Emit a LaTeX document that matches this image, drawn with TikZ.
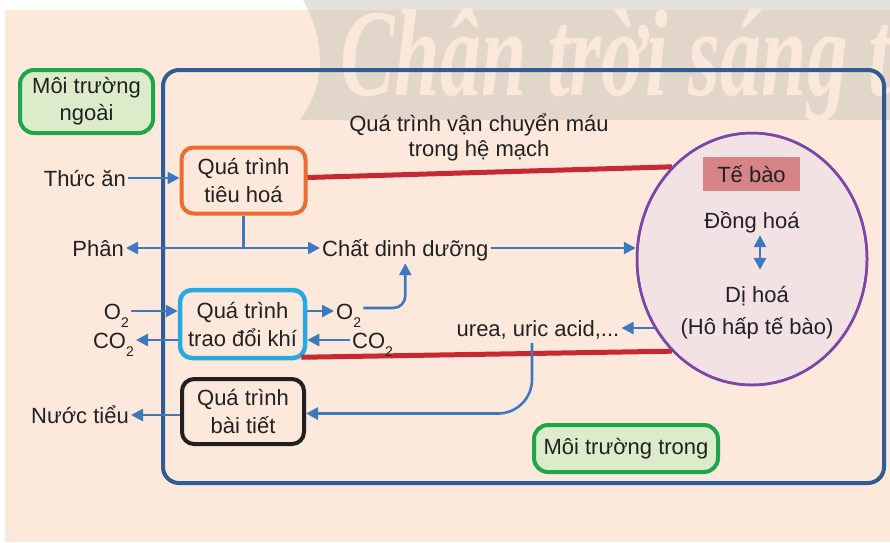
\documentclass[tikz,border=0pt]{standalone}
\usepackage{fontspec}
\setmainfont{Liberation Sans}
\newfontfamily\wmfont{Liberation Serif}
\usetikzlibrary{arrows.meta,shapes.geometric}

\definecolor{peach}{RGB}{252,233,219}
\definecolor{bandgray}{RGB}{195,190,180}
\definecolor{wmtext}{RGB}{250,232,218}
\definecolor{ink}{RGB}{33,33,33}
\definecolor{framebl}{RGB}{47,93,146}
\definecolor{envgreen}{RGB}{29,166,74}
\definecolor{envfill}{RGB}{220,236,202}
\definecolor{digest}{RGB}{236,107,45}
\definecolor{gasbl}{RGB}{42,169,225}
\definecolor{excr}{RGB}{35,31,32}
\definecolor{bloodred}{RGB}{199,40,50}
\definecolor{flowbl}{RGB}{61,120,192}
\definecolor{cellpurple}{RGB}{126,69,168}
\definecolor{cellfill}{RGB}{243,226,228}
\definecolor{tagfill}{RGB}{214,132,134}

% lowered subscript two for O2 / CO2
\newcommand\subtwo{\raisebox{-8pt}{\fontsize{14}{14}\selectfont 2}}

\begin{document}
\begin{tikzpicture}[x=1pt,y=-1pt,
  font=\fontsize{22}{27}\selectfont, text=ink,
  lbl/.style={inner sep=2pt, text height=21pt, text depth=5pt},
  proc/.style={draw, line width=4pt, rounded corners=12pt, fill=peach,
    align=center, inner sep=2pt, font=\fontsize{22}{28}\selectfont},
  envbox/.style={draw=envgreen, fill=envfill, line width=4pt,
    rounded corners=14pt, align=center, inner sep=2pt},
  flow/.style={draw=flowbl, line width=2.6pt, -{Triangle[length=12pt,width=12pt]}},
  flowboth/.style={draw=flowbl, line width=2.6pt,
    {Triangle[length=12pt,width=12pt]}-{Triangle[length=12pt,width=12pt]}},
  plain/.style={draw=flowbl, line width=2.6pt},
  blood/.style={draw=bloodred, line width=5pt},
]
\useasboundingbox (0,0) rectangle (890,542);

% page background
\fill[peach] (5,10) rectangle (890,542);

% publisher banner with its lettering
\fill[bandgray, opacity=0.45] (303,0) .. controls (326,40) and (326,85) .. (300,120)
  -- (890,120) -- (890,0) -- cycle;
\begin{scope}
  \clip (0,0) rectangle (890,120);
  \node[anchor=base west, inner sep=0, text=wmtext] (wm) at (340,95)
    {\scalebox{0.66}[1]{\wmfont\bfseries\itshape\fontsize{124}{124}\selectfont Chân trời sáng tạo}};
\end{scope}

% internal environment frame
\node[draw=framebl, line width=4pt, rounded corners=16pt,
  minimum width=721pt, minimum height=413pt, inner sep=0] (inner) at (523.5,276.5) {};

% environment labels
\node[envbox, minimum width=133pt, minimum height=63pt] (ngoai) at (86.5,101.5) {Môi trường\\ngoài};
\node[envbox, minimum width=184pt, minimum height=47pt] (trong) at (626,448.5) {Môi trường trong};

% process boxes
\node[proc, draw=digest, minimum width=124pt, minimum height=66pt] (tiehoa) at (243.5,180.5) {Quá trình\\tiêu hoá};
\node[proc, draw=gasbl, line width=4.5pt, minimum width=125pt, minimum height=68pt] (gas) at (242.5,324) {Quá trình\\trao đổi khí};
\node[proc, draw=excr, minimum width=122pt, minimum height=65pt] (baitiet) at (243,411.5) {Quá trình\\bài tiết};

% cell
\node[ellipse, draw=cellpurple, fill=cellfill, line width=2.5pt,
  minimum width=230pt, minimum height=252pt, inner sep=0] (cell) at (752,259) {};

% blood transport lines
\draw[blood] ([yshift=3pt]tiehoa.east) -- (cell.131);
\draw[blood] ([xshift=-6pt,yshift=3pt]gas.south east) -- (cell.229);
\node[ellipse, draw=cellpurple, line width=2.5pt,
  minimum width=230pt, minimum height=252pt, inner sep=0] (cellrim) at (cell.center) {};

\node[align=center, font=\fontsize{22}{25}\selectfont] (mach) at (479,137) {Quá trình vận chuyển máu\\trong hệ mạch};

% inside the cell
\node[fill=tagfill, minimum width=97pt, minimum height=34pt, inner sep=0] (tag) at (751.5,174) {Tế bào};
\node[lbl] (dong) at (752,220) {Đồng hoá};
\node[lbl] (di) at (757,294) {Dị hoá};
\node[lbl] (hohap) at (757,326) {(Hô hấp tế bào)};
\coordinate (ax) at (760,0);
\draw[flowboth] (dong.south -| ax) -- ([yshift=9pt]di.north -| ax);

% outer labels
\node[lbl, anchor=east] (thucan) at (128,178) {Thức ăn};
\node[lbl, anchor=east] (phan) at (126,248) {Phân};
\node[lbl, anchor=east] (o2in) at (131,311) {O\subtwo};
\node[lbl, anchor=east] (co2in) at (136,340) {CO\subtwo};
\node[lbl, anchor=east] (nuoc) at (131,415) {Nước tiểu};

% inner labels
\node[lbl, anchor=west] (chat) at (320,248) {Chất dinh dưỡng};
\node[lbl, anchor=west] (o2out) at (334,311) {O\subtwo};
\node[lbl, anchor=west] (co2out) at (350,340) {CO\subtwo};
\node[lbl] (urea) at (538,328) {urea, uric acid,...};

% digestion
\draw[flow] (thucan.east) -- (thucan.east -| tiehoa.west);
\coordinate (split) at (tiehoa.south |- phan.east);
\draw[plain] (tiehoa.south) -- (split);
\draw[flow] (split) -- (phan.east);
\draw[flow] (split) -- (chat.west);
\draw[flow] (chat.east) -- (chat.east -| cell.west);

% gas exchange
\draw[flow] (o2in.east) -- (o2in.east -| gas.west);
\draw[flow] (co2in.east -| gas.west) -- (co2in.east);
\draw[flow] (o2out.west -| gas.east) -- (o2out.west);
\draw[flow] (co2out.west) -- (co2out.west -| gas.east);
\draw[flow, rounded corners=12pt] ([yshift=3pt]o2out.east) -| (chat.south);

% excretion
\draw[flow] (urea.east -| cell.216) -- (urea.east);
\draw[flow, rounded corners=34pt] ([xshift=-6pt]urea.south) |- ([yshift=-2pt]baitiet.east);
\draw[flow] (nuoc.east -| baitiet.west) -- (nuoc.east);
\end{tikzpicture}
\end{document}
